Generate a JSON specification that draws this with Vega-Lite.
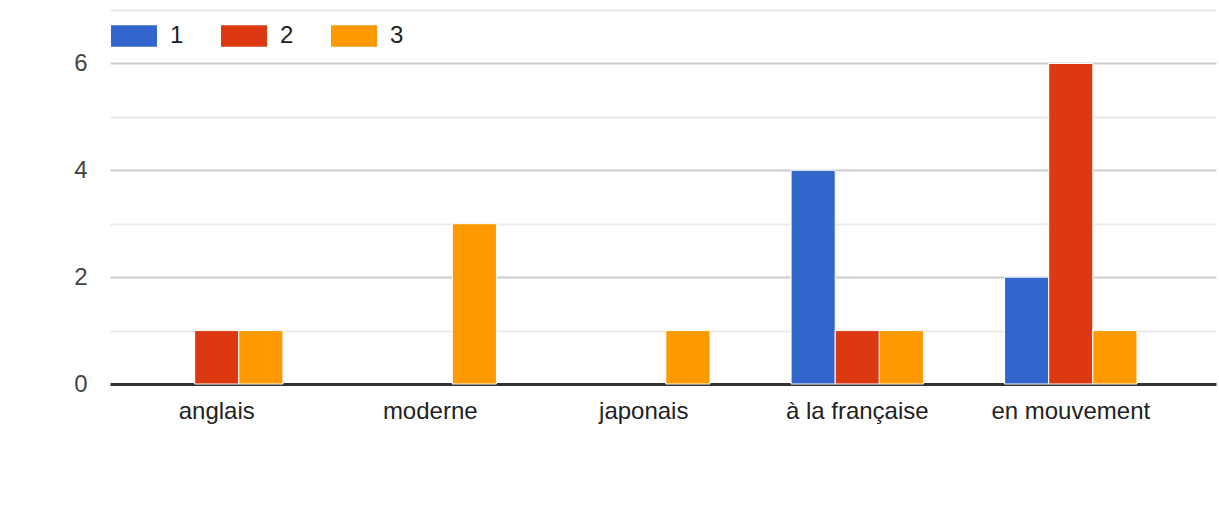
{
  "$schema": "https://vega.github.io/schema/vega-lite/v6.json",
  "width": 1106,
  "height": 374,
  "autosize": {"type": "none"},
  "padding": {"left": 110, "top": 10, "right": 3, "bottom": 132},
  "background": "white",
  "config": {
    "view": {"stroke": null},
    "font": "Liberation Sans"
  },
  "data": {
    "values": [
      {"category": "anglais", "series": "1", "count": 0},
      {"category": "anglais", "series": "2", "count": 1},
      {"category": "anglais", "series": "3", "count": 1},
      {"category": "moderne", "series": "1", "count": 0},
      {"category": "moderne", "series": "2", "count": 0},
      {"category": "moderne", "series": "3", "count": 3},
      {"category": "japonais", "series": "1", "count": 0},
      {"category": "japonais", "series": "2", "count": 0},
      {"category": "japonais", "series": "3", "count": 1},
      {"category": "à la française", "series": "1", "count": 4},
      {"category": "à la française", "series": "2", "count": 1},
      {"category": "à la française", "series": "3", "count": 1},
      {"category": "en mouvement", "series": "1", "count": 2},
      {"category": "en mouvement", "series": "2", "count": 6},
      {"category": "en mouvement", "series": "3", "count": 1}
    ]
  },
  "transform": [{"filter": "datum.count > 0"}],
  "mark": {"type": "bar", "stroke": "white", "strokeWidth": 1},
  "encoding": {
    "x": {
      "field": "category",
      "type": "nominal",
      "sort": ["anglais", "moderne", "japonais", "à la française", "en mouvement"],
      "scale": {"domain": ["anglais", "moderne", "japonais", "à la française", "en mouvement"], "paddingInner": 0.38, "paddingOuter": 0.28, "align": 0.339},
      "axis": {
        "title": null,
        "labelAngle": 0,
        "labelFontSize": 24,
        "labelColor": "#222222",
        "labelPadding": 15,
        "ticks": false,
        "domain": false,
        "grid": false
      }
    },
    "xOffset": {"field": "series", "type": "nominal", "scale": {"domain": ["1", "2", "3"], "paddingInner": 0, "paddingOuter": 0}},
    "y": {
      "field": "count",
      "type": "quantitative",
      "scale": {"domain": [0, 7], "nice": false},
      "axis": {
        "title": null,
        "values": [0, 1, 2, 3, 4, 5, 6, 7],
        "labelExpr": "datum.value % 2 == 0 ? datum.label : ''",
        "labelFontSize": 24,
        "labelColor": "#444444",
        "labelPadding": 23,
        "ticks": false,
        "domain": false,
        "gridColor": {"condition": [{"test": "datum.value == 0", "value": "#333333"}, {"test": "datum.value % 2 == 0", "value": "#cccccc"}], "value": "#ebebeb"},
        "gridWidth": {"condition": {"test": "datum.value == 0", "value": 3}, "value": 2},
        "zindex": 0
      }
    },
    "color": {
      "field": "series",
      "type": "nominal",
      "scale": {"domain": ["1", "2", "3"], "range": ["#3366cc", "#dc3912", "#ff9900"]},
      "legend": {
        "title": null,
        "orient": "none",
        "legendX": 1,
        "legendY": 3,
        "padding": 0,
        "direction": "horizontal",
        "symbolType": "M-1,-0.47H1V0.47H-1Z",
        "symbolSize": 2116,
        "symbolStrokeWidth": 0,
        "symbolOpacity": 1,
        "labelFontSize": 24,
        "labelColor": "#222222",
        "labelOffset": 13,
        "columnPadding": 37
      }
    }
  }
}
